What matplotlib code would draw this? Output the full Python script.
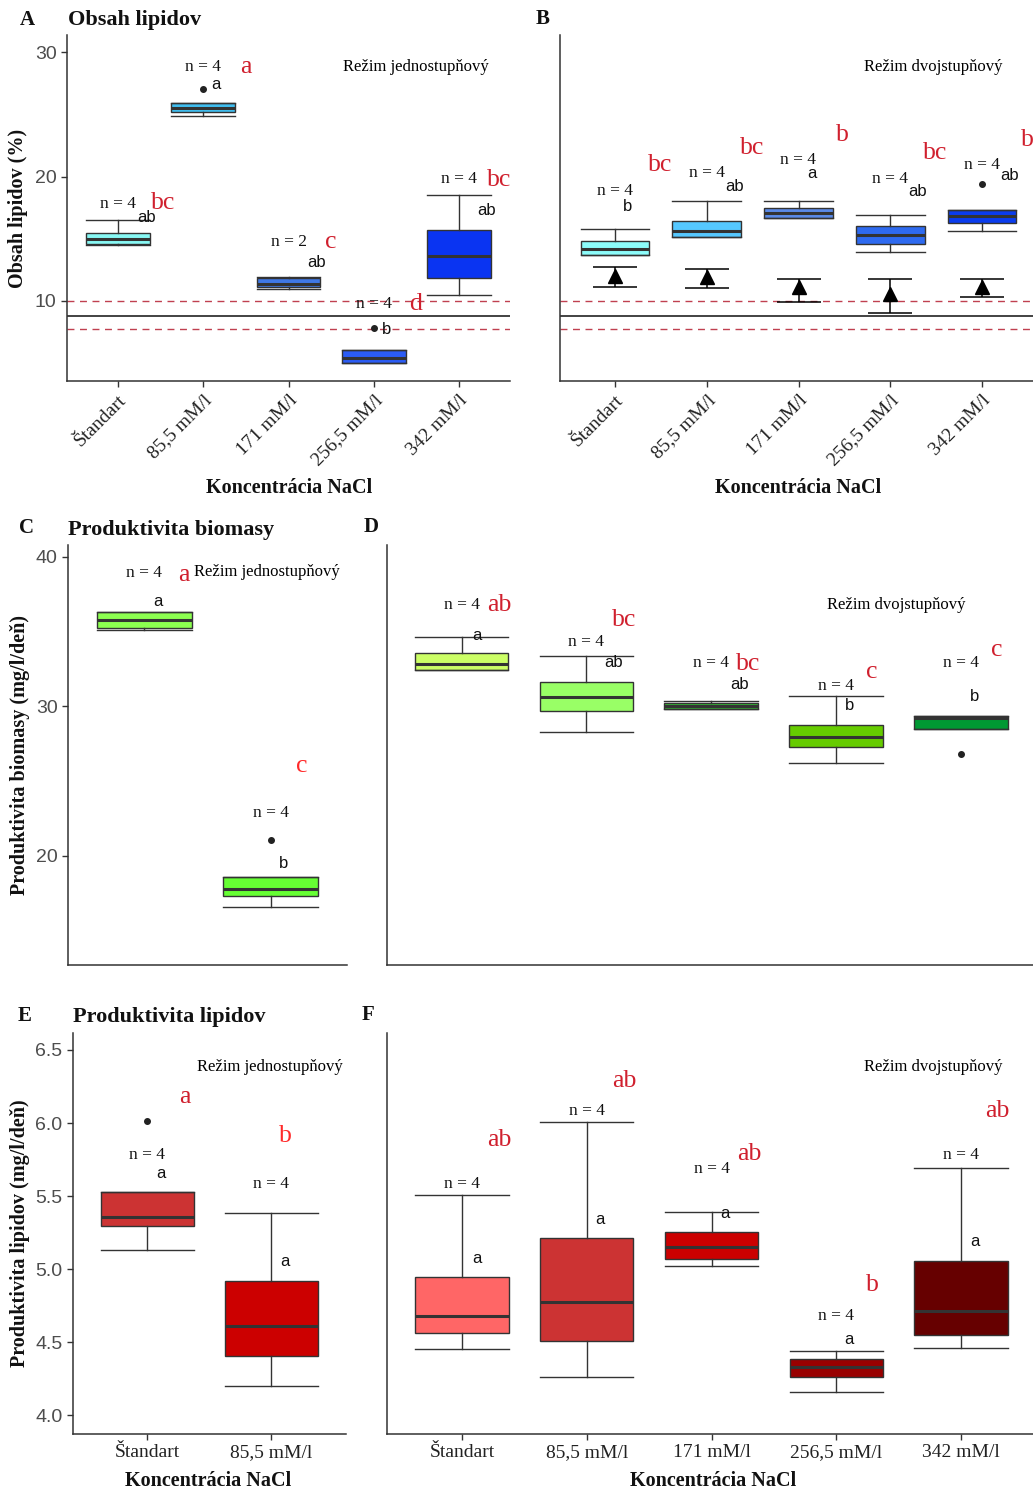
import matplotlib
matplotlib.use('Agg')
import matplotlib.pyplot as plt

W, H = 1033, 1494
SERIF = ['Liberation Serif', 'DejaVu Serif']
SANS = ['Liberation Sans', 'DejaVu Sans']
DARK = '#333333'
RED = '#D0202E'
LIGHTRED = '#FF2A2A'

categories = ['Štandart', '85,5 mM/l', '171 mM/l', '256,5 mM/l', '342 mM/l']
categories_short = ['Štandart', '85,5 mM/l']

# A - obsah lipidov, jednostupnovy
lip1_whislo = [14.5, 24.9, 10.95, 5.05, 10.5]
lip1_q1 = [14.6, 25.2, 11.1, 5.05, 11.85]
lip1_med = [14.95, 25.5, 11.4, 5.4, 13.6]
lip1_q3 = [15.45, 25.9, 11.85, 6.1, 15.7]
lip1_whishi = [16.5, 25.9, 11.9, 6.1, 18.5]
lip1_fliers = [[], [27.0], [], [7.8], []]
lip1_n = ['n = 4', 'n = 4', 'n = 2', 'n = 4', 'n = 4']
lip1_grp = ['ab', 'a', 'ab', 'b', 'ab']
lip1_sig = ['bc', 'a', 'c', 'd', 'bc']

# B - obsah lipidov, dvojstupnovy
lip2_whislo = [13.7, 15.1, 16.7, 13.95, 15.65]
lip2_q1 = [13.7, 15.1, 16.7, 14.55, 16.3]
lip2_med = [14.2, 15.6, 17.1, 15.3, 16.8]
lip2_q3 = [14.85, 16.4, 17.5, 16.0, 17.3]
lip2_whishi = [15.8, 18.0, 18.05, 16.9, 17.3]
lip2_fliers = [[], [], [], [], [19.4]]
lip2_mean = [12.0, 11.95, 11.1, 10.6, 11.15]
lip2_mean_lo = [11.15, 11.05, 9.95, 9.0, 10.35]
lip2_mean_hi = [12.7, 12.6, 11.8, 11.8, 11.75]
lip2_n = ['n = 4'] * 5
lip2_grp = ['b', 'ab', 'a', 'ab', 'ab']
lip2_sig = ['bc', 'bc', 'b', 'bc', 'b']

# referencne ciary
ref_mean = 8.8
ref_lo = 7.75
ref_hi = 10.0

# C - produktivita biomasy, jednostupnovy
bio1_whislo = [35.1, 16.55]
bio1_q1 = [35.25, 17.3]
bio1_med = [35.77, 17.78]
bio1_q3 = [36.28, 18.6]
bio1_whishi = [36.28, 18.6]
bio1_fliers = [[], [21.07]]
bio1_n = ['n = 4', 'n = 4']
bio1_grp = ['a', 'b']
bio1_sig = ['a', 'c']

# D - produktivita biomasy, dvojstupnovy
bio2_whislo = [32.42, 28.29, 29.79, 26.22, 28.45]
bio2_q1 = [32.42, 29.68, 29.79, 27.25, 28.45]
bio2_med = [32.82, 30.64, 30.03, 27.96, 29.19]
bio2_q3 = [33.54, 31.64, 30.19, 28.72, 29.34]
bio2_whishi = [34.65, 33.36, 30.35, 30.68, 29.34]
bio2_fliers = [[], [], [], [], [26.78]]
bio2_n = ['n = 4'] * 5
bio2_grp = ['a', 'ab', 'ab', 'b', 'b']
bio2_sig = ['ab', 'bc', 'bc', 'c', 'c']

# E - produktivita lipidov, jednostupnovy
plip1_whislo = [5.133, 4.203]
plip1_q1 = [5.293, 4.404]
plip1_med = [5.355, 4.613]
plip1_q3 = [5.526, 4.921]
plip1_whishi = [5.526, 5.384]
plip1_fliers = [[6.016], []]
plip1_n = ['n = 4', 'n = 4']
plip1_grp = ['a', 'a']
plip1_sig = ['a', 'b']

# F - produktivita lipidov, dvojstupnovy
plip2_whislo = [4.454, 4.26, 5.02, 4.162, 4.461]
plip2_q1 = [4.561, 4.511, 5.07, 4.26, 4.552]
plip2_med = [4.682, 4.774, 5.154, 4.333, 4.716]
plip2_q3 = [4.944, 5.211, 5.252, 4.386, 5.058]
plip2_whishi = [5.51, 6.009, 5.393, 4.443, 5.692]
plip2_fliers = [[], [], [], [], []]
plip2_n = ['n = 4'] * 5
plip2_grp = ['a'] * 5
plip2_sig = ['ab', 'ab', 'ab', 'b', 'ab']

colors_A = ['#88F8F4', '#40BEF0', '#3F78E6', '#2B5CF5', '#0A34F2']
colors_B = ['#8CFCFA', '#55C8FF', '#5A8AE8', '#2E6AF0', '#0A3CEE']
colors_C = ['#8CFF50', '#66FF33']
colors_D = ['#CCFF66', '#99FF66', '#33BB33', '#66CC00', '#009933']
colors_E = ['#CC3333', '#CC0000']
colors_F = ['#FF6666', '#CC3333', '#CC0000', '#990000', '#660000']

# pozicie popisov (x posun od kategorie, y v jednotkach osi)
A_n_y = [17.8, 28.8, 14.7, 9.75, 19.8]
A_grp_dx = [0.33, 0.15, 0.33, 0.15, 0.33]
A_grp_y = [16.7, 27.4, 13.1, 7.7, 17.3]
A_sig_dx = [0.53, 0.5, 0.5, 0.49, 0.47]
A_sig_y = [17.9, 28.8, 14.7, 9.75, 19.7]

B_n_y = [18.85, 20.3, 21.3, 19.8, 20.9]
B_grp_dx = [0.14, 0.3, 0.15, 0.3, 0.3]
B_grp_y = [17.6, 19.2, 20.25, 18.8, 20.1]
B_sig_dx = [0.49, 0.49, 0.48, 0.49, 0.49]
B_sig_y = [20.9, 22.3, 23.3, 21.85, 22.9]

C_n_y = [38.93, 22.83]
C_grp_dx = [0.11, 0.1]
C_grp_y = [37.0, 19.45]
C_sig_dx = [0.31, 0.24]
C_sig_y = [38.75, 26.0]

D_n_y = [36.8, 34.31, 32.87, 31.35, 32.87]
D_grp_dx = [0.12, 0.22, 0.23, 0.11, 0.11]
D_grp_y = [34.76, 32.91, 31.42, 30.03, 30.64]
D_sig_dx = [0.3, 0.3, 0.3, 0.29, 0.29]
D_sig_y = [36.77, 35.77, 32.82, 32.31, 33.76]

E_n_y = [5.78, 5.583]
E_grp_dx = [0.11, 0.11]
E_grp_y = [5.658, 5.051]
E_sig_dx = [0.3, 0.11]
E_sig_y = [6.18, 5.913]

F_n_y = [5.583, 6.084, 5.685, 4.682, 5.78]
F_grp_dx = [0.12, 0.11, 0.11, 0.1, 0.11]
F_grp_y = [5.074, 5.339, 5.384, 4.518, 5.19]
F_sig_dx = [0.3, 0.3, 0.3, 0.29, 0.29]
F_sig_y = [5.886, 6.285, 5.788, 4.894, 6.084]


fig = plt.figure(figsize=(W / 100, H / 100), dpi=100)


def make_ax(left, top, right, bottom, ylim):
    ax = fig.add_axes([left / W, 1 - bottom / H, (right - left) / W, (bottom - top) / H])
    ax.set_xlim(-0.6, 4.6 if right - left > 400 else 1.6)
    ax.set_ylim(*ylim)
    for s in ['top', 'right']:
        ax.spines[s].set_visible(False)
    for s in ['left', 'bottom']:
        ax.spines[s].set_color(DARK)
        ax.spines[s].set_linewidth(1.1)
    ax.tick_params(length=4, color=DARK, width=1.0)
    return ax


def draw_boxes(ax, whislo, q1, med, q3, whishi, fliers, colors):
    stats = []
    for i in range(len(med)):
        stats.append(dict(whislo=whislo[i], q1=q1[i], med=med[i], q3=q3[i],
                          whishi=whishi[i], fliers=fliers[i]))
    bp = ax.bxp(stats, positions=list(range(len(stats))), widths=0.75, capwidths=0.75,
                patch_artist=True,
                boxprops=dict(edgecolor=DARK, linewidth=1.0),
                medianprops=dict(color=DARK, linewidth=2.2),
                whiskerprops=dict(color=DARK, linewidth=1.0),
                capprops=dict(color=DARK, linewidth=1.0),
                flierprops=dict(marker='o', markerfacecolor='#222222',
                                markeredgecolor='#222222', markersize=4))
    for patch, c in zip(bp['boxes'], colors):
        patch.set_facecolor(c)


def annotate(ax, n_lab, n_y, grp, grp_dx, grp_y, sig, sig_dx, sig_y, sig_colors=None):
    for i in range(len(n_lab)):
        ax.text(i, n_y[i], n_lab[i], ha='center', va='center', fontsize=12.5,
                family=SERIF, color='#111111', clip_on=False)
        ax.text(i + grp_dx[i], grp_y[i], grp[i], ha='center', va='center', fontsize=12,
                family=SANS, color='#111111', clip_on=False)
        col = RED if sig_colors is None else sig_colors[i]
        ax.text(i + sig_dx[i], sig_y[i], sig[i], ha='center', va='center', fontsize=18.5,
                family=SERIF, color=col, clip_on=False)


def ref_lines(ax):
    ax.axhline(ref_hi, color='#C04050', lw=1.0, ls=(0, (5, 4)))
    ax.axhline(ref_lo, color='#C04050', lw=1.0, ls=(0, (5, 4)))
    ax.axhline(ref_mean, color='#222222', lw=1.2)


def ytick_style(ax):
    for lab in ax.get_yticklabels():
        lab.set_family(SANS)
        lab.set_fontsize(14)
        lab.set_color('#4D4D4D')


def px(x, y):
    return x / W, 1 - y / H


# ---- A ----
axA = make_ax(67, 35, 510, 381, (3.57, 31.37))
ref_lines(axA)
draw_boxes(axA, lip1_whislo, lip1_q1, lip1_med, lip1_q3, lip1_whishi, lip1_fliers, colors_A)
annotate(axA, lip1_n, A_n_y, lip1_grp, A_grp_dx, A_grp_y, lip1_sig, A_sig_dx, A_sig_y)
axA.text(3.5, 28.8, 'Režim jednostupňový', ha='center', va='center', fontsize=12, family=SERIF)
axA.set_yticks([10, 20, 30])
ytick_style(axA)
axA.set_xticks(range(5))
axA.set_xticklabels(categories, rotation=45, ha='right', va='top', rotation_mode='anchor',
                    family=SERIF, fontsize=14, color='#222222')

# ---- B ----
axB = make_ax(560, 35, 1037, 381, (3.57, 31.37))
ref_lines(axB)
draw_boxes(axB, lip2_whislo, lip2_q1, lip2_med, lip2_q3, lip2_whishi, lip2_fliers, colors_B)
axB.errorbar(range(5), lip2_mean,
             yerr=[[m - lo for m, lo in zip(lip2_mean, lip2_mean_lo)],
                   [hi - m for m, hi in zip(lip2_mean, lip2_mean_hi)]],
             fmt='^', color='black', markersize=10, capsize=16, elinewidth=1.1, capthick=1.1)
annotate(axB, lip2_n, B_n_y, lip2_grp, B_grp_dx, B_grp_y, lip2_sig, B_sig_dx, B_sig_y)
axB.text(3.47, 28.8, 'Režim dvojstupňový', ha='center', va='center', fontsize=12, family=SERIF)
axB.tick_params(axis='y', left=False, labelleft=False)
axB.set_xticks(range(5))
axB.set_xticklabels(categories, rotation=45, ha='right', va='top', rotation_mode='anchor',
                    family=SERIF, fontsize=14, color='#222222')

# ---- C ----
axC = make_ax(68, 545, 347, 965, (12.69, 40.78))
draw_boxes(axC, bio1_whislo, bio1_q1, bio1_med, bio1_q3, bio1_whishi, bio1_fliers, colors_C)
annotate(axC, bio1_n, C_n_y, bio1_grp, C_grp_dx, C_grp_y, bio1_sig, C_sig_dx, C_sig_y,
         sig_colors=[RED, LIGHTRED])
axC.text(0.395, 38.97, 'Režim jednostupňový', ha='left', va='center', fontsize=12, family=SERIF)
axC.set_yticks([20, 30, 40])
ytick_style(axC)
axC.set_xticks([])

# ---- D ----
axD = make_ax(386.7, 545, 1035.7, 965, (12.69, 40.78))
draw_boxes(axD, bio2_whislo, bio2_q1, bio2_med, bio2_q3, bio2_whishi, bio2_fliers, colors_D)
annotate(axD, bio2_n, D_n_y, bio2_grp, D_grp_dx, D_grp_y, bio2_sig, D_sig_dx, D_sig_y)
axD.text(3.48, 36.8, 'Režim dvojstupňový', ha='center', va='center', fontsize=12, family=SERIF)
axD.set_xticks([])
axD.set_yticks([])

# ---- E ----
axE = make_ax(72.7, 1033, 346, 1434, (3.873, 6.616))
draw_boxes(axE, plip1_whislo, plip1_q1, plip1_med, plip1_q3, plip1_whishi, plip1_fliers, colors_E)
annotate(axE, plip1_n, E_n_y, plip1_grp, E_grp_dx, E_grp_y, plip1_sig, E_sig_dx, E_sig_y,
         sig_colors=[RED, LIGHTRED])
axE.text(0.99, 6.385, 'Režim jednostupňový', ha='center', va='center', fontsize=12, family=SERIF)
axE.set_yticks([4.0, 4.5, 5.0, 5.5, 6.0, 6.5])
axE.set_yticklabels(['4.0', '4.5', '5.0', '5.5', '6.0', '6.5'])
ytick_style(axE)
axE.set_xticks(range(2))
axE.set_xticklabels(categories_short, family=SERIF, fontsize=14, color='#222222')

# ---- F ----
axF = make_ax(387, 1033, 1036, 1434, (3.873, 6.616))
draw_boxes(axF, plip2_whislo, plip2_q1, plip2_med, plip2_q3, plip2_whishi, plip2_fliers, colors_F)
annotate(axF, plip2_n, F_n_y, plip2_grp, F_grp_dx, F_grp_y, plip2_sig, F_sig_dx, F_sig_y)
axF.text(3.78, 6.385, 'Režim dvojstupňový', ha='center', va='center', fontsize=12, family=SERIF)
axF.tick_params(axis='y', left=False, labelleft=False)
axF.set_xticks(range(5))
axF.set_xticklabels(categories, family=SERIF, fontsize=14, color='#222222')

# ---- panel letters, titles, axis labels ----
bold = dict(family=SERIF, weight='bold', color='#111111')
for lab, x, y in [('A', 27, 20), ('B', 543, 19), ('C', 26, 528), ('D', 371, 527),
                  ('E', 25, 1016), ('F', 368, 1015)]:
    fig.text(*px(x, y), lab, ha='center', va='center', fontsize=15, **bold)
for lab, x, y in [('Obsah lipidov', 68, 20), ('Produktivita biomasy', 68, 530),
                  ('Produktivita lipidov', 73, 1017)]:
    fig.text(*px(x, y), lab, ha='left', va='center', fontsize=16, **bold)
for lab, x, y in [('Obsah lipidov (%)', 18, 208), ('Produktivita biomasy (mg/l/deň)', 20, 755),
                  ('Produktivita lipidov (mg/l/deň)', 20, 1233)]:
    fig.text(*px(x, y), lab, ha='center', va='center', rotation=90, fontsize=14.5, **bold)
for x, y in [(289, 488), (798, 488), (208, 1481), (713, 1481)]:
    fig.text(*px(x, y), 'Koncentrácia NaCl', ha='center', va='center', fontsize=14.5, **bold)

fig.savefig('out.png', dpi=100)
